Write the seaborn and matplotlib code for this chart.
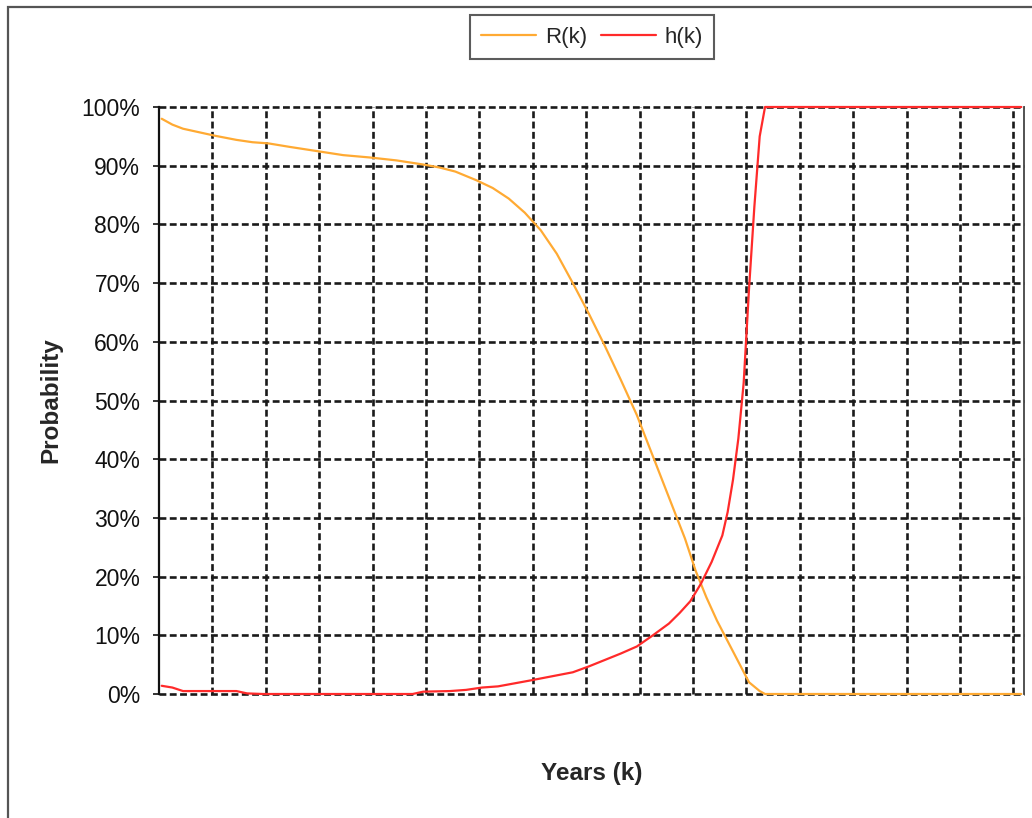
import numpy as np
import pandas as pd
import matplotlib
matplotlib.use("Agg")
import matplotlib.pyplot as plt
import matplotlib.patches as mpatches
from matplotlib.lines import Line2D
import seaborn as sns

# R(k): reliability, values in %
r_years = [1, 3, 5, 8, 11, 15, 18, 21, 25, 30, 35, 40, 45, 50, 53, 56, 60, 63, 66,
           69, 72, 75, 78, 81, 84, 87, 90, 93, 96, 99, 101, 103, 105, 107, 109, 111,
           113, 114, 162]
r_vals = [98.0, 97.0, 96.3, 95.7, 95.1, 94.4, 94.0, 93.8, 93.2, 92.5, 91.8, 91.4, 90.9,
          90.2, 89.7, 89.0, 87.5, 86.2, 84.4, 82.0, 79.0, 75.0, 70.0, 64.8, 59.3, 53.5,
          47.5, 40.5, 33.5, 26.5, 21.0, 16.5, 12.5, 9.0, 5.5, 2.0, 0.5, 0.0, 0.0]

# h(k): hazard rate, values in %
h_years = [1, 3, 5, 10, 15, 17, 20, 48, 50, 55, 58, 61, 64, 67, 70, 74, 78, 81, 84, 87,
           90, 93, 96, 98, 100, 102, 104, 106, 107, 108, 109, 110, 111, 112, 113, 114, 162]
h_vals = [1.4, 1.1, 0.5, 0.5, 0.5, 0.1, 0.0, 0.0, 0.4, 0.5, 0.7, 1.1, 1.3, 1.8, 2.3, 3.0,
          3.7, 4.7, 5.8, 6.9, 8.1, 10.0, 12.0, 13.8, 15.8, 18.8, 22.5, 27.0, 31.0, 36.5,
          43.5, 53.0, 69.0, 83.0, 95.0, 100.0, 100.0]

y_ticks = [0, 10, 20, 30, 40, 50, 60, 70, 80, 90, 100]
y_labels = [f"{v}%" for v in y_ticks]
n_years = 162

C_R = "#FFAA33"
C_H = "#FF2A2A"

sns.set_theme(style="white")
plt.rcParams["font.family"] = ["Liberation Sans", "DejaVu Sans"]

fig = plt.figure(figsize=(10.32, 8.18), dpi=100)
ax = fig.add_axes([159 / 1032, 1 - 694 / 818, (1024 - 159) / 1032, (694 - 107) / 818])

# grid (Excel-like heavy dashed lines)
grid_kw = dict(color="#1a1a1a", lw=1.9, dashes=(2.6, 1.3), zorder=1, clip_on=False)
for y in y_ticks:
    ax.axhline(y, **grid_kw)
for x in np.arange(10.5, n_years + 0.5, 10):
    ax.axvline(x, **grid_kw)

df_r = pd.DataFrame({"year": r_years, "p": r_vals})
df_h = pd.DataFrame({"year": h_years, "p": h_vals})
sns.lineplot(data=df_r, x="year", y="p", color=C_R, lw=1.6, ax=ax, zorder=3, clip_on=False)
sns.lineplot(data=df_h, x="year", y="p", color=C_H, lw=1.6, ax=ax, zorder=3, clip_on=False)

ax.set_xlim(0.5, n_years + 0.5)
ax.set_ylim(0, 100)
ax.set_xticks([])
ax.set_yticks(y_ticks)
ax.set_yticklabels(y_labels, fontsize=16.5, color="#111111")
ax.tick_params(axis="y", direction="out", length=4.5, width=1.2, color="#111111", pad=9, left=True)
ax.set_xlabel("Years (k)", fontsize=17.5, fontweight="bold", labelpad=49)
ax.set_ylabel("Probability", fontsize=17.5, fontweight="bold", labelpad=14)

for s in ["top", "bottom"]:
    ax.spines[s].set_visible(False)
ax.spines["left"].set_color("#111111")
ax.spines["left"].set_linewidth(1.6)
ax.spines["right"].set_color("#444444")
ax.spines["right"].set_linewidth(1.3)

handles = [Line2D([0], [0], color=C_R, lw=1.6), Line2D([0], [0], color=C_H, lw=1.6)]
leg = fig.legend(handles, ["R(k)", "h(k)"], ncol=2, loc="center",
                 bbox_to_anchor=(592 / 1032, 1 - 37 / 818), fontsize=16,
                 frameon=True, fancybox=False, handlelength=2.5, handletextpad=0.4,
                 columnspacing=0.6, borderpad=0.5, borderaxespad=0)
leg.get_frame().set_edgecolor("#333333")
leg.get_frame().set_linewidth(1.5)

# chart area border (cut off at right and bottom in the source image)
fig.patches.append(mpatches.Rectangle((8 / 1032, -0.2), 2, 1.2 - 7 / 818,
                                      transform=fig.transFigure, fill=False,
                                      edgecolor="#555555", lw=1.6))

fig.savefig("out.png", dpi=100, facecolor="white")
